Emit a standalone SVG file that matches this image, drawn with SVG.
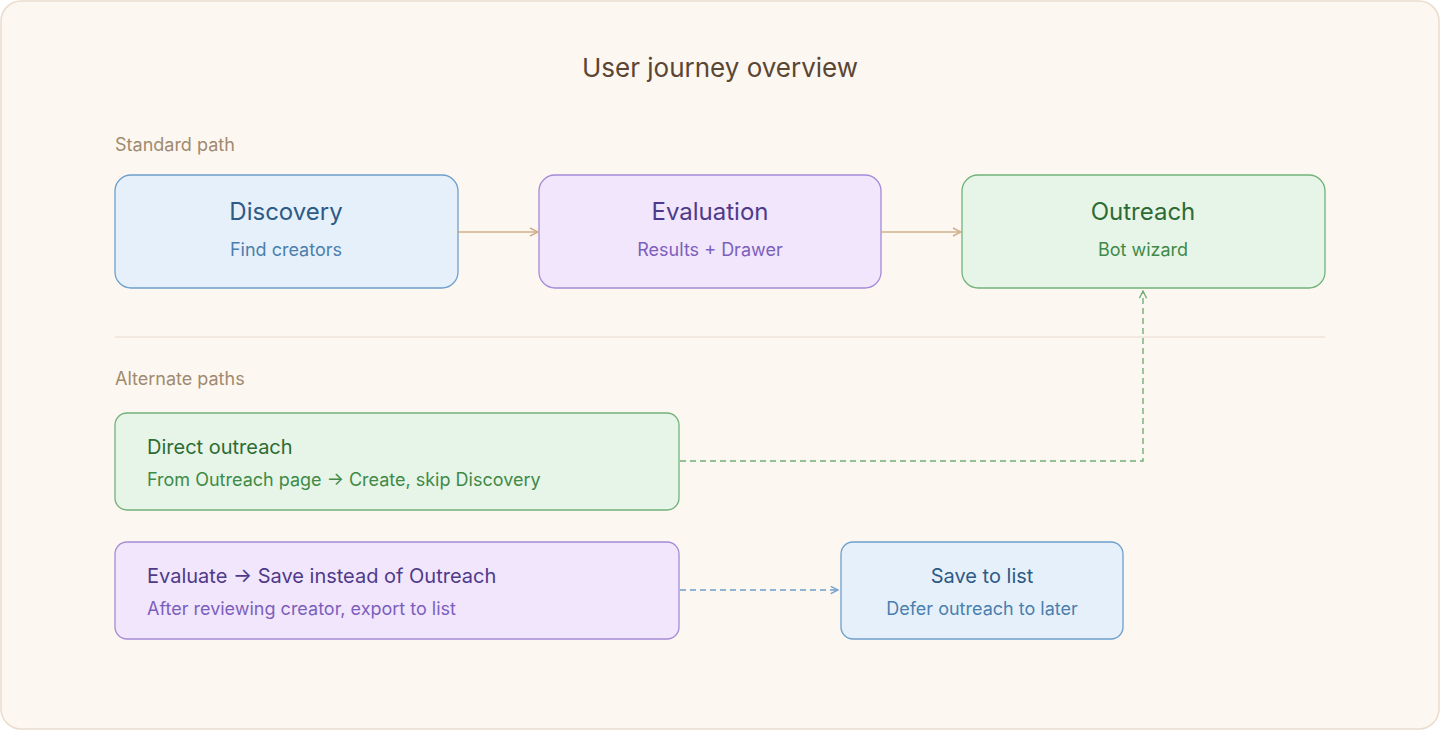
<svg xmlns="http://www.w3.org/2000/svg" width="1440" height="730" viewBox="0 0 1440 730">
<style>
text{font-family:Inter,"Liberation Sans",sans-serif}
.t{font-size:24px;text-anchor:middle}
.s{font-size:18px;text-anchor:middle}
.sec{font-size:18px;fill:#a08a70}
.bl rect{fill:#e6f0fa;stroke:#6d9fcc;stroke-width:1.3}
.pu rect{fill:#f1e6fc;stroke:#a58bd6;stroke-width:1.3}
.gr rect{fill:#e6f5e8;stroke:#72b27a;stroke-width:1.3}
</style>
<defs>
<marker id="a1" viewBox="0 0 10 10" refX="9" refY="5" markerWidth="10" markerHeight="10" markerUnits="userSpaceOnUse" orient="auto"><path d="M1 1L9 5L1 9" fill="none" stroke="#cfb08a" stroke-width="1.5"/></marker>
<marker id="ag" viewBox="0 0 10 10" refX="9" refY="5" markerWidth="9" markerHeight="9" markerUnits="userSpaceOnUse" orient="auto"><path d="M1 1L9 5L1 9" fill="none" stroke="#6fae76" stroke-width="1.5"/></marker>
<marker id="ab" viewBox="0 0 10 10" refX="9" refY="5" markerWidth="9" markerHeight="9" markerUnits="userSpaceOnUse" orient="auto"><path d="M1 1L9 5L1 9" fill="none" stroke="#6d9fcc" stroke-width="1.5"/></marker>
</defs>
<rect x="1" y="1" width="1438" height="728" rx="20" fill="#fdf7f1" stroke="#eadccd" stroke-width="1.5"/>
<text x="720" y="77" text-anchor="middle" font-size="26" fill="#5a4632">User journey overview</text>
<text class="sec" x="115" y="151">Standard path</text>
<line x1="115" y1="337" x2="1325" y2="337" stroke="#e6dbcf" stroke-width="1"/>
<text class="sec" x="115" y="385">Alternate paths</text>
<g id="discovery" class="bl"><rect x="115" y="175" width="343" height="113" rx="16"/><text class="t" x="286" y="220" fill="#2d5a86">Discovery</text><text class="s" x="286" y="256" fill="#4a7fae">Find creators</text></g>
<g id="evaluation" class="pu"><rect x="539" y="175" width="342" height="113" rx="16"/><text class="t" x="710" y="220" fill="#4f3a8a">Evaluation</text><text class="s" x="710" y="256" fill="#7c5fbd">Results + Drawer</text></g>
<g id="outreach" class="gr"><rect x="962" y="175" width="363" height="113" rx="16"/><text class="t" x="1143" y="220" fill="#2e6b34">Outreach</text><text class="s" x="1143" y="256" fill="#3f8a47">Bot wizard</text></g>
<g id="direct" class="gr"><rect x="115" y="413" width="564" height="97" rx="12"/><text x="147" y="454" font-size="20" fill="#2e6b34">Direct outreach</text><text x="147" y="486" font-size="18" fill="#3f8a47">From Outreach page → Create, skip Discovery</text></g>
<g id="evalsave" class="pu"><rect x="115" y="542" width="564" height="97" rx="12"/><text x="147" y="583" font-size="20" fill="#4f3a8a">Evaluate → Save instead of Outreach</text><text x="147" y="615" font-size="18" fill="#7c5fbd">After reviewing creator, export to list</text></g>
<g id="savelist" class="bl"><rect x="841" y="542" width="282" height="97" rx="12"/><text class="s" x="982" y="583" font-size="20" style="font-size:20px" fill="#2d5a86">Save to list</text><text class="s" x="982" y="615" fill="#4a7fae">Defer outreach to later</text></g>
<g id="connectors" fill="none">
<line x1="458" y1="232" x2="538" y2="232" stroke="#cfb08a" stroke-width="1.6" marker-end="url(#a1)"/>
<line x1="881" y1="232" x2="961" y2="232" stroke="#cfb08a" stroke-width="1.6" marker-end="url(#a1)"/>
<path d="M680 461H1143V291" stroke="#6fae76" stroke-width="1.4" stroke-dasharray="6 4" marker-end="url(#ag)"/>
<line x1="680" y1="590" x2="838" y2="590" stroke="#6d9fcc" stroke-width="1.4" stroke-dasharray="6 4" marker-end="url(#ab)"/>
</g>
</svg>
